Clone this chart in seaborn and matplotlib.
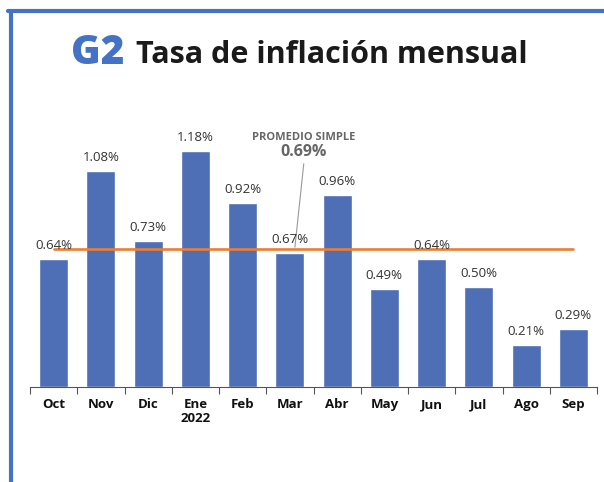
import pandas as pd
import matplotlib.pyplot as plt
import seaborn as sns
from matplotlib.lines import Line2D

meses = ['Oct', 'Nov', 'Dic', 'Ene\n2022', 'Feb', 'Mar', 'Abr', 'May', 'Jun', 'Jul', 'Ago', 'Sep']
tasa = [0.64, 1.08, 0.73, 1.18, 0.92, 0.67, 0.96, 0.49, 0.64, 0.50, 0.21, 0.29]
promedio = 0.69

df = pd.DataFrame({'mes': meses, 'tasa': tasa})

sns.set_style('white')
plt.rcParams['font.family'] = ['Open Sans', 'DejaVu Sans']

fig = plt.figure(figsize=(6.04, 4.82), dpi=100)
ax = fig.add_axes([30 / 604, 95 / 482, 567 / 604, 267 / 482])

sns.barplot(data=df, x='mes', y='tasa', color='#4E6EB6', saturation=1, width=0.61, ax=ax)
ax.set_ylim(0, 267 / 200)
ax.set_xlim(-0.5, len(meses) - 0.5)

# linea de promedio
ax.plot([0, len(meses) - 1], [promedio, promedio], color='#ED7D31', lw=1.9, zorder=3)

# etiquetas de valor
for i, v in enumerate(tasa):
    ax.text(i, v + 0.035, f'{v:.2f}%', ha='center', va='bottom', fontsize=9.5, color='#333333', zorder=4)

# anotacion
ax.annotate('', xy=(5.1, promedio - 0.005), xytext=(5.3, 1.13),
            arrowprops=dict(arrowstyle='-', color='#999999', lw=0.8))
ax.text(5.3, 1.245, 'PROMEDIO SIMPLE', ha='center', va='center', fontsize=8, fontweight='bold', color='#666666')
ax.text(5.3, 1.175, '0.69%', ha='center', va='center', fontsize=11.5, fontweight='bold', color='#666666')

# ejes
for s in ['top', 'right', 'left']:
    ax.spines[s].set_visible(False)
ax.spines['bottom'].set_color('#555555')
ax.spines['bottom'].set_linewidth(0.8)
ax.set_yticks([])
ax.set_xlabel('')
ax.set_ylabel('')
ax.set_xticks(range(len(meses)))
ax.set_xticklabels(meses, fontsize=9.5, fontweight='bold', color='#111111', linespacing=1.1)
ax.tick_params(axis='x', length=0, pad=8)
ax.set_xticks([i - 0.5 for i in range(len(meses) + 1)], minor=True)
ax.tick_params(axis='x', which='minor', length=5, color='#555555', width=0.8, direction='out', bottom=True)

# titulo
fig.text(71 / 604, 1 - 53 / 482, 'G2', fontsize=29, fontweight='heavy', color='#4472C4', va='center', ha='left')
fig.text(136 / 604, 1 - 55 / 482, 'Tasa de inflación mensual', fontsize=22, fontweight='bold', color='#1a1a1a', va='center', ha='left')

# marco
fig.add_artist(Line2D([8 / 604, 1], [1 - 11 / 482, 1 - 11 / 482], color='#4472C4', lw=3))
fig.add_artist(Line2D([11 / 604, 11 / 604], [0, 1 - 11 / 482], color='#4472C4', lw=3))

fig.savefig('out.png', dpi=100)
